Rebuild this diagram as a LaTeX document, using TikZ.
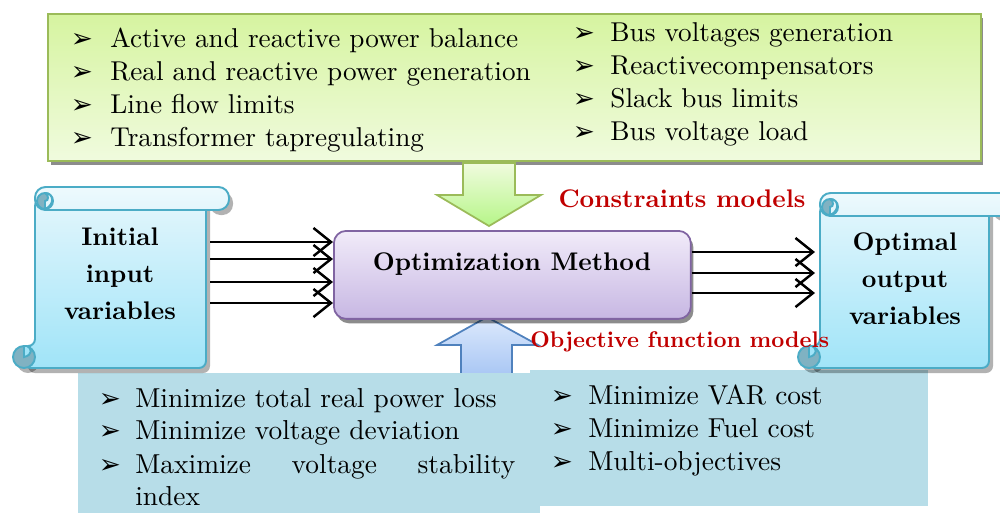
\documentclass[tikz,border=0pt]{standalone}
\usepackage{fontspec}
\setmainfont{lmroman10-regular}[Extension=.otf,BoldFont=lmroman10-bold,ItalicFont=lmroman10-italic]
\newfontfamily\symfont{DejaVu Sans}
\usetikzlibrary{arrows.meta,shadows}

\definecolor{grnTop}{RGB}{214,244,160}
\definecolor{grnBot}{RGB}{240,251,222}
\definecolor{grnLine}{RGB}{155,187,89}
\definecolor{purTop}{RGB}{241,235,249}
\definecolor{purBot}{RGB}{199,183,227}
\definecolor{purLine}{RGB}{128,100,162}
\definecolor{objFill}{RGB}{183,221,232}
\definecolor{scrTop}{RGB}{226,246,252}
\definecolor{scrBot}{RGB}{160,228,248}
\definecolor{scrLine}{RGB}{75,172,198}
\definecolor{curlFill}{RGB}{128,178,194}
\definecolor{bluTop}{RGB}{220,233,252}
\definecolor{bluBot}{RGB}{168,198,244}
\definecolor{bluLine}{RGB}{79,129,189}
\definecolor{redLbl}{RGB}{192,0,0}

% vertical scroll: #1 body left, #2 roll top, #3 body right, #4 bottom, #5 roll right end
\newcommand\drawscroll[5]{%
  \begin{scope}[shift={(4,5)}]
  \fill[black,opacity=0.3,rounded corners=4pt]
    (#1,{#2+12}) -- (#3,{#2+12}) -- (#3,#4) -- ({#1-11},#4) -- ({#1-11},{#4-22}) -- (#1,{#4-22}) -- cycle;
  \fill[black,opacity=0.3] ({#1-11},{#4-11}) circle[radius=11];
  \fill[black,opacity=0.3,rounded corners=6pt] (#3,#2) rectangle (#5,{#2+23});
  \end{scope}
  \draw[scrollline,top color=scrTop,bottom color=scrBot,rounded corners=4pt]
    (#1,{#2+12}) -- (#3,{#2+12}) -- (#3,#4) -- ({#1-11},#4) -- ({#1-11},{#4-22}) -- (#1,{#4-22}) -- cycle;
  \draw[scrollline,fill=curlFill] ({#1-11},{#4-11}) circle[radius=11];
  \draw[scrollline,fill=scrBot] ({#1-11},{#4-11}) .. controls ({#1-2},{#4-13}) and ({#1-3},{#4-20}) .. ({#1-8},{#4-22}) -- ({#1-11},{#4-22}) -- cycle;
  \draw[scrollline,top color=scrTop!60!white,bottom color=scrTop,rounded corners=6pt]
    (#1,#2) rectangle (#5,{#2+23});
  \draw[scrollline,fill=curlFill] ({#1+10},{#2+14}) circle[radius=8];
  \draw[scrollline,fill=scrTop] ({#1+10},{#2+6}) .. controls ({#1+19},{#2+6}) and ({#1+20},{#2+18}) .. ({#1+10},{#2+22}) -- ({#1+10},{#2+14}) .. controls ({#1+14},{#2+14}) and ({#1+14},{#2+8}) .. ({#1+10},{#2+6});
}

\begin{document}
\begin{tikzpicture}[x=0.02cm,y=-0.02cm,
  scrollline/.style={draw=scrLine,line width=1.1pt},
  bodytext/.style={anchor=base west,inner sep=0pt,font=\fontsize{15.5}{18}\selectfont},
  objtext/.style={bodytext,font=\fontsize{15.6}{18}\selectfont},
  bullet/.style={anchor=base,inner sep=0pt,font=\symfont\fontsize{15}{17}\selectfont},
  title/.style={align=center,font=\bfseries\fontsize{14.5}{21}\selectfont},
  redlabel/.style={text=redLbl,inner sep=0pt,font=\bfseries\fontsize{12.9}{15}\selectfont},
  flow/.style={line width=1.4pt,-{Straight Barb[length=10pt,width=16pt,line width=1.4pt]}},
  shadowed/.style={drop shadow={shadow xshift=1.5pt,shadow yshift=-2.5pt,opacity=0.45,fill=black}}]
\useasboundingbox (0,0) rectangle (1000,512);

% constraints panel
\node[draw=grnLine,line width=1pt,top color=grnTop,bottom color=grnBot,shadowed,
      minimum width=18.66cm,minimum height=2.94cm,anchor=north west,inner sep=0pt]
      (cons) at (47,13) {};

\foreach \t [count=\i] in {Active and reactive power balance,Real and reactive power generation,Line flow limits,Transformer tapregulating}{
  \node[bullet] (cb\i) at (82,{14+33*\i}) {➢};
  \node[bodytext] (ct\i) at (110,{14+33*\i}) {\t};
}
\foreach \t [count=\i] in {Bus voltages generation,Reactivecompensators,Slack bus limits,Bus voltage load}{
  \node[bullet] (db\i) at (584,{8+33*\i}) {➢};
  \node[bodytext] (dt\i) at (610,{8+33*\i}) {\t};
}

% constraints arrow
\draw[grnLine,line width=1pt,top color=grnBot,bottom color=grnTop!85!green]
  (463,163) -- (515,163) -- (515,195) -- (541,195) -- (489,226) -- (437,195) -- (463,195) -- cycle;

% objective arrow
\draw[bluLine,line width=1pt,top color=bluTop,bottom color=bluBot]
  (487,317) -- (538,345) -- (512,345) -- (512,376) -- (461,376) -- (461,345) -- (437,345) -- cycle;

% objective panels
\fill[objFill] (530,370) rectangle (928,506);
\node[fill=objFill,minimum width=9.24cm,minimum height=2.8cm,anchor=north west,inner sep=0pt]
  (obj) at (78,373) {};

\node[bullet] (ob1) at (110,407) {➢};
\node[objtext] (ot1) at (135,407) {Minimize total real power loss};
\node[bullet] (ob2) at (110,439) {➢};
\node[objtext] (ot2) at (135,439) {Minimize voltage deviation};
\node[bullet] (ob3) at (110,473) {➢};
\node[objtext] (ot3) at (135,473) {\makebox[7.6cm][s]{Maximize\hfill voltage\hfill stability}};
\node[objtext] (ot4) at (135,505) {index};

\node[bullet] (pb1) at (562,404) {➢};
\node[objtext] (pt1) at (588,404) {Minimize VAR cost};
\node[bullet] (pb2) at (562,437) {➢};
\node[objtext] (pt2) at (588,437) {Minimize Fuel cost};
\node[bullet] (pb3) at (562,470) {➢};
\node[objtext] (pt3) at (588,470) {Multi-objectives};

% optimization method
\node[draw=purLine,line width=1pt,top color=purTop,bottom color=purBot,rounded corners=7pt,shadowed,
      minimum width=7.14cm,minimum height=1.76cm,anchor=north west,inner sep=0pt]
      (opt) at (333,230) {};
\node[title,anchor=base] (optl) at (512,270) {Optimization Method};

% scrolls
\drawscroll{35}{187}{206}{368}{229}
\node[title] (inp) at (120,274) {Initial\\input\\variables};

\begin{scope}
\clip (780,180) rectangle (1000,400);
\drawscroll{820}{193}{989}{368}{1040}
\end{scope}
\node[title] (outp) at (905,279) {Optimal\\output\\variables};

% model labels
\node[redlabel,anchor=base,font=\bfseries\fontsize{14.5}{16}\selectfont] (lc) at (682,207) {Constraints models};
\node[redlabel,anchor=base west] (lo) at (530,347) {Objective function models};

% input and output flows
\foreach \yy [count=\i] in {242,259,282,303}{
  \coordinate (in\i) at (210,\yy);
  \draw[flow] (in\i) -- (opt.west |- in\i);
}
\foreach \yy [count=\i] in {252,273,293}{
  \coordinate (out\i) at (815,\yy);
  \draw[flow] (opt.east |- out\i) -- (out\i);
}
\end{tikzpicture}
\end{document}
